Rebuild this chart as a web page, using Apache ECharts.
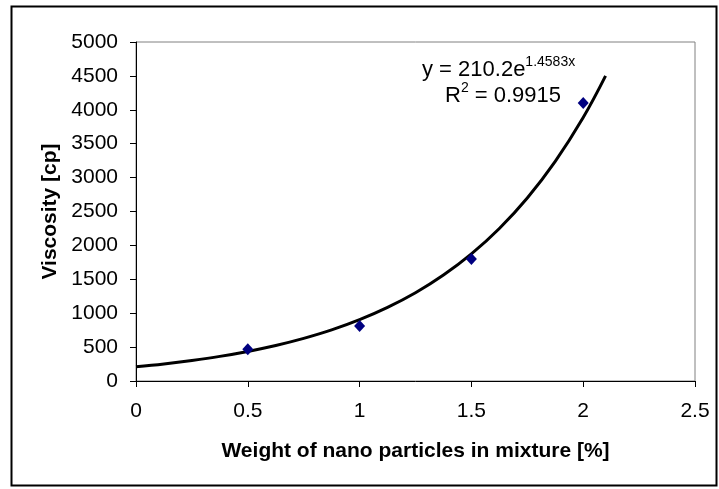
<!DOCTYPE html>
<html><head><meta charset="utf-8">
<script src="https://cdn.jsdelivr.net/npm/echarts@6/dist/echarts.min.js"></script>
<style>html,body{margin:0;padding:0;background:#fff}#c{width:719px;height:489px}</style>
</head><body><div id="c"></div>
<script>
// Measured data points
const weightPct = [0.5, 1, 1.5, 2];
const viscosity = [470, 810, 1800, 4100];
// Trendline
const trendX = [0, 0.125, 0.25, 0.375, 0.5, 0.625, 0.75, 0.875, 1, 1.125, 1.25, 1.375, 1.5, 1.625, 1.75, 1.875, 2, 2.1];
const trendY = [210, 252, 303, 363, 436, 523, 628, 753, 904, 1085, 1301, 1562, 1874, 2249, 2699, 3239, 3886, 4500];
const xTicks = [0, 0.5, 1, 1.5, 2, 2.5];
const yTicks = [0, 500, 1000, 1500, 2000, 2500, 3000, 3500, 4000, 4500, 5000];

const chart = echarts.init(document.getElementById('c'), null, {renderer: 'canvas'});
const F = 'Liberation Sans, Arial, sans-serif';
chart.setOption({
  animation: false,
  backgroundColor: '#fff',
  grid: {left: 136, right: 24, top: 42, bottom: 108, show: true, borderColor: '#808080', borderWidth: 1, backgroundColor: '#fff'},
  xAxis: {
    type: 'value', min: xTicks[0], max: xTicks[xTicks.length - 1], interval: 0.5,
    axisLine: {onZero: false, lineStyle: {color: '#000', width: 1}},
    axisTick: {show: true, inside: false, length: 6, lineStyle: {color: '#000'}},
    splitLine: {show: false},
    axisLabel: {color: '#000', fontSize: 21, fontFamily: F, margin: 20, formatter: v => String(v)},
    name: 'Weight of nano particles in mixture [%]', nameLocation: 'middle', nameGap: 60,
    nameTextStyle: {color: '#000', fontSize: 21, fontWeight: 'bold', fontFamily: F}
  },
  yAxis: {
    type: 'value', min: yTicks[0], max: yTicks[yTicks.length - 1], interval: 500,
    axisLine: {show: true, onZero: false, lineStyle: {color: '#000', width: 1}},
    axisTick: {show: true, inside: false, length: 6, lineStyle: {color: '#000'}},
    splitLine: {show: false},
    axisLabel: {color: '#000', fontSize: 21, fontFamily: F, margin: 18, formatter: v => String(v)},
    name: 'Viscosity [cp]', nameLocation: 'middle', nameGap: 60, nameRotate: 90,
    nameTextStyle: {color: '#000', fontSize: 21, fontWeight: 'bold', fontFamily: F}
  },
  series: [
    {
      type: 'line', data: trendX.map((x, i) => [x, trendY[i]]), smooth: 0.4,
      showSymbol: false, lineStyle: {color: '#000', width: 3}, z: 2
    },
    {
      type: 'scatter', data: weightPct.map((x, i) => [x, viscosity[i]]),
      symbol: 'diamond', symbolSize: [11, 12], itemStyle: {color: '#000080', opacity: 1}, z: 3
    }
  ],
  graphic: [
    {type: 'rect', shape: {x: 11.5, y: 6.5, width: 705, height: 479}, style: {fill: 'none', stroke: '#000', lineWidth: 2}, silent: true, z: -10},
    {type: 'text', left: 422, top: 55, style: {
      text: '{b|y = 210.2e}{s|1.4583x}',
      rich: {b: {fontSize: 22, fontFamily: F, fill: '#000', verticalAlign: 'bottom'}, s: {fontSize: 14, fontFamily: F, fill: '#000', verticalAlign: 'top', padding: [0,0,12,0]}}
    }},
    {type: 'text', left: 445, top: 81, style: {
      text: '{b|R}{s|2}{b| = 0.9915}',
      rich: {b: {fontSize: 22, fontFamily: F, fill: '#000', verticalAlign: 'bottom'}, s: {fontSize: 14, fontFamily: F, fill: '#000', verticalAlign: 'top', padding: [0,0,12,0]}}
    }}
  ]
});
</script></body></html>
